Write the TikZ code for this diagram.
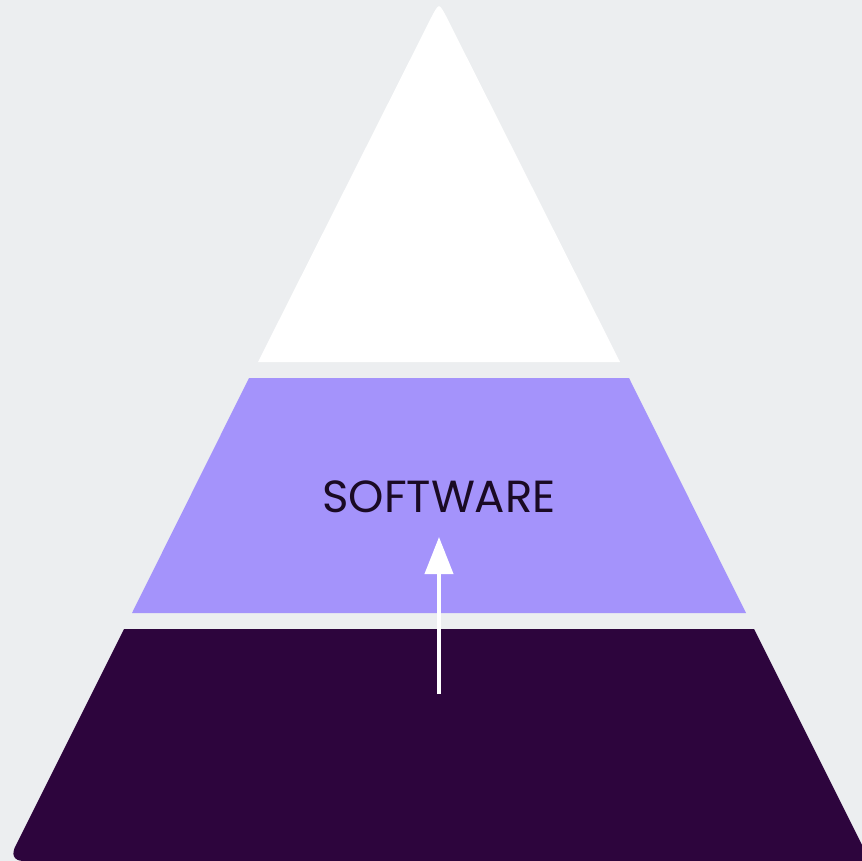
\documentclass[tikz,border=0pt]{standalone}
\usepackage{fontspec}
\setmainfont{Poppins}
\usetikzlibrary{arrows.meta}
\definecolor{bg}{HTML}{ECEEF0}
\definecolor{midpurple}{HTML}{A493FB}
\definecolor{darkpurple}{HTML}{2D053D}
\definecolor{textcol}{HTML}{1A0A24}
\tikzset{
  label text/.style={text=textcol, font=\fontsize{45}{49}\selectfont, inner sep=0pt},
  uparrow/.style={draw=white, line width=4pt, -{Triangle[width=28pt,length=37pt]}}
}
\begin{document}
\begin{tikzpicture}[x=1pt,y=-1pt]
\fill[bg] (0,0) rectangle (862,861);
\useasboundingbox (0,0) rectangle (862,861);
% top layer
\fill[white] (258,362) -- (432,16) .. controls (439,3) .. (446,16) -- (620,362) -- cycle;
% middle layer
\fill[midpurple] (249,378) -- (629,378) -- (746,613) -- (132,613) -- cycle;
% bottom layer
\fill[darkpurple] (124,629) -- (754,629) -- (870,861) -- (24,861)
  .. controls (13,861) and (11,854) .. (16,845) -- cycle;
\node[label text] (sw) at (439,497) {SOFTWARE};
\coordinate (arrowstart) at (439,694);
\coordinate (arrowend) at (439,537);
\draw[uparrow] (arrowstart) -- (arrowend);
\end{tikzpicture}
\end{document}
